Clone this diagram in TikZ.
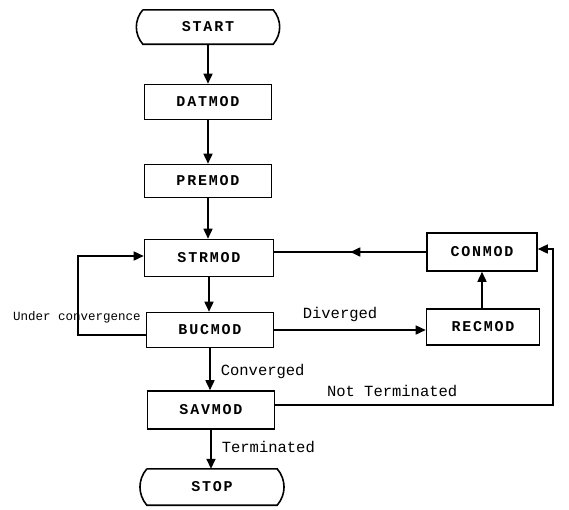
\documentclass[tikz,border=0pt]{standalone}
\usepackage{fontspec}
\setmonofont{Liberation Mono}
\usetikzlibrary{arrows.meta,decorations.markings,calc}
\begin{document}
\begin{tikzpicture}[x=1pt,y=-1pt,
  bfont/.style={font=\ttfamily\bfseries\fontsize{15}{17}\selectfont\addfontfeatures{LetterSpace=12}},
  box/.style={draw,line width=1.6pt,minimum width=127pt,minimum height=35pt,inner sep=0pt,bfont},
  term/.style={minimum width=130pt,minimum height=34pt,inner sep=0pt,bfont},
  lbl/.style={font=\ttfamily\fontsize{15.5}{18}\selectfont,inner sep=0pt},
  arr/.style={line width=1.6pt,-{Triangle[length=10pt,width=9pt]}},
  ln/.style={line width=1.6pt},
  midarr/.style={postaction={decorate},decoration={markings,mark=at position 0.5 with {\arrow{Triangle[length=10pt,width=9pt]}}}}
]
\useasboundingbox (0,0) rectangle (569,509);
\node[term] (start) at (208,27) {START};
\draw[ln] (start.north west) -- (start.north east) to[bend left=40] (start.south east) -- (start.south west) to[bend left=40] (start.north west);
\node[box] (dat) at (208,102) {DATMOD};
\node[box,minimum height=33pt] (pre) at (208,181) {PREMOD};
\node[box,minimum width=129pt,minimum height=37pt] (str) at (209,258) {STRMOD};
\node[box] (buc) at (210,330) {BUCMOD};
\node[box,minimum height=38pt] (sav) at (211,410) {SAVMOD};
\node[term,minimum height=36pt] (stop) at (212,487) {STOP};
\draw[ln] (stop.north west) -- (stop.north east) to[bend left=40] (stop.south east) -- (stop.south west) to[bend left=40] (stop.north west);
\node[box,minimum width=110pt,minimum height=38pt] (con) at (482,252) {CONMOD};
\node[box,minimum width=113pt,minimum height=36pt] (rec) at (483,327) {RECMOD};

\draw[arr] (start) -- (dat);
\draw[arr] (dat) -- (pre);
\draw[arr] (pre.south) -- (pre.south |- str.north);
\draw[arr] (str.south) -- (str.south |- buc.north);
\draw[arr] (buc.south) -- node[lbl,anchor=west,xshift=10pt,yshift=-2pt]{Converged} (buc.south |- sav.north);
\draw[arr] (sav.south) -- node[lbl,anchor=west,xshift=10pt,yshift=2pt]{Terminated} (sav.south |- stop.north);
\draw[arr] (rec.north -| con.south) -- (con.south);
\draw[arr] (buc.east) -- node[lbl,above=7pt,xshift=-10pt]{Diverged} (buc.east -| rec.west);
\draw[ln,midarr] (con.west) -- (con.west -| str.east);
\coordinate (uc) at (78,335);
\draw[arr] (buc.west |- uc) -- (uc) |- ($(str.west)+(0,-2)$);
\node[font=\ttfamily\fontsize{12.5}{14}\selectfont,inner sep=0pt] at (77,317) {Under convergence};
\coordinate (nt) at (553,405);
\draw[arr] (sav.east |- nt) -- node[lbl,above=8pt,xshift=-22pt]{Not Terminated} (nt) |- ($(con.east)+(0,-3)$);
\end{tikzpicture}
\end{document}
